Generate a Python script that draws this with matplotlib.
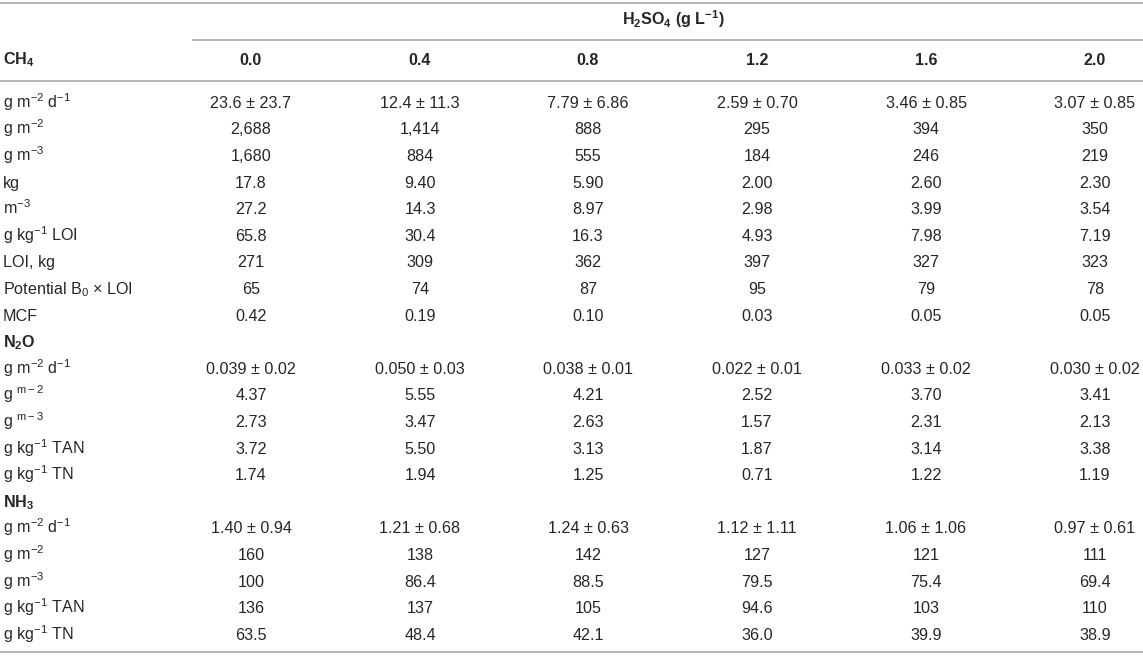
import matplotlib
matplotlib.use("Agg")
import matplotlib.pyplot as plt

plt.rcParams['font.family'] = ['Liberation Sans', 'DejaVu Sans']
plt.rcParams['mathtext.fontset'] = 'custom'
plt.rcParams['mathtext.rm'] = 'Liberation Sans'
plt.rcParams['mathtext.it'] = 'Liberation Sans'
plt.rcParams['mathtext.bf'] = 'Liberation Sans:bold'

# Kolon başlıkları (H2SO4 dozları)
doses = ['0.0', '0.4', '0.8', '1.2', '1.6', '2.0']

# CH4 bölümü
ch4_labels = [r'g m$^{-2}$ d$^{-1}$', r'g m$^{-2}$', r'g m$^{-3}$', 'kg', r'm$^{-3}$',
              r'g kg$^{-1}$ LOI', 'LOI, kg', r'Potential B$_0$ $\times$ LOI', 'MCF']
ch4_values = [
    ['23.6 ± 23.7', '12.4 ± 11.3', '7.79 ± 6.86', '2.59 ± 0.70', '3.46 ± 0.85', '3.07 ± 0.85'],
    ['2,688', '1,414', '888', '295', '394', '350'],
    ['1,680', '884', '555', '184', '246', '219'],
    ['17.8', '9.40', '5.90', '2.00', '2.60', '2.30'],
    ['27.2', '14.3', '8.97', '2.98', '3.99', '3.54'],
    ['65.8', '30.4', '16.3', '4.93', '7.98', '7.19'],
    ['271', '309', '362', '397', '327', '323'],
    ['65', '74', '87', '95', '79', '78'],
    ['0.42', '0.19', '0.10', '0.03', '0.05', '0.05'],
]

# N2O bölümü
n2o_labels = [r'g m$^{-2}$ d$^{-1}$', r'g $^{\mathregular{m-2}}$', r'g $^{\mathregular{m-3}}$',
              r'g kg$^{-1}$ TAN', r'g kg$^{-1}$ TN']
n2o_values = [
    ['0.039 ± 0.02', '0.050 ± 0.03', '0.038 ± 0.01', '0.022 ± 0.01', '0.033 ± 0.02', '0.030 ± 0.02'],
    ['4.37', '5.55', '4.21', '2.52', '3.70', '3.41'],
    ['2.73', '3.47', '2.63', '1.57', '2.31', '2.13'],
    ['3.72', '5.50', '3.13', '1.87', '3.14', '3.38'],
    ['1.74', '1.94', '1.25', '0.71', '1.22', '1.19'],
]

# NH3 bölümü
nh3_labels = [r'g m$^{-2}$ d$^{-1}$', r'g m$^{-2}$', r'g m$^{-3}$',
              r'g kg$^{-1}$ TAN', r'g kg$^{-1}$ TN']
nh3_values = [
    ['1.40 ± 0.94', '1.21 ± 0.68', '1.24 ± 0.63', '1.12 ± 1.11', '1.06 ± 1.06', '0.97 ± 0.61'],
    ['160', '138', '142', '127', '121', '111'],
    ['100', '86.4', '88.5', '79.5', '75.4', '69.4'],
    ['136', '137', '105', '94.6', '103', '110'],
    ['63.5', '48.4', '42.1', '36.0', '39.9', '38.9'],
]

W, H = 1143, 656
fig = plt.figure(figsize=(W / 100, H / 100), dpi=100)
ax = fig.add_axes([0, 0, 1, 1])
ax.set_xlim(0, W)
ax.set_ylim(H, 0)
ax.axis('off')

text_color = '#262626'
line_color = '#b4b4b4'
fs = 11.6
col_x = [251, 420, 588, 757, 926, 1095]
left_x = 3
bl = 5.8  # satır merkezinden taban çizgisine kayma


def put(x, y, s, ha='center', bold=False):
    ax.text(x, y + bl, s, ha=ha, va='baseline', fontsize=fs, color=text_color,
            fontweight='bold' if bold else 'normal')


# Çizgiler
ax.plot([0, W], [3, 3], color=line_color, lw=1.4)
ax.plot([193, W], [40, 40], color=line_color, lw=1.4)
ax.plot([0, W], [81, 81], color=line_color, lw=1.4)
ax.plot([0, W], [652, 652], color=line_color, lw=1.4)

# Başlıklar
put(673, 19, r'H$_\mathbf{2}$SO$_\mathbf{4}$ (g L$^{\mathbf{-1}}$)', bold=True)
put(left_x, 59, r'CH$_\mathbf{4}$', ha='left', bold=True)
for x, d in zip(col_x, doses):
    put(x, 59, d, bold=True)

step = 26.6
y = 102.0


def draw_rows(labels, values, y):
    for lab, row in zip(labels, values):
        put(left_x, y, lab, ha='left')
        for x, v in zip(col_x, row):
            put(x, y, v)
        y += step
    return y


y = draw_rows(ch4_labels, ch4_values, y)
put(left_x, y, r'N$_\mathbf{2}$O', ha='left', bold=True)
y += step
y = draw_rows(n2o_labels, n2o_values, y)
put(left_x, y, r'NH$_\mathbf{3}$', ha='left', bold=True)
y += step
y = draw_rows(nh3_labels, nh3_values, y)

fig.savefig('out.png', dpi=100)
